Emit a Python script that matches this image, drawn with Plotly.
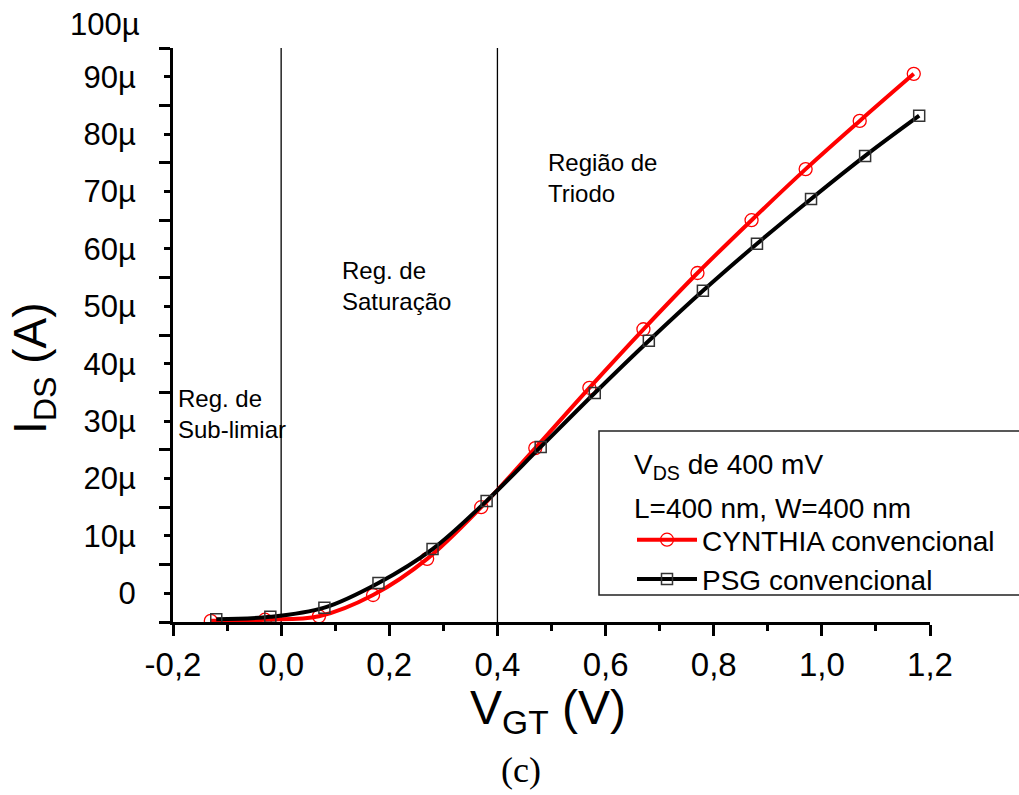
import plotly.graph_objects as go

# ---- data (axis units as labelled: µA) ----
x_cynthia = [-0.13, -0.03, 0.07, 0.17, 0.27, 0.37, 0.47, 0.57, 0.67, 0.77, 0.87, 0.97, 1.07, 1.17]
i_cynthia = [-4.8, -4.6, -4.0, -0.3, 6.0, 15.0, 25.3, 35.8, 46.0, 55.8, 65.0, 73.9, 82.3, 90.5]
x_psg = [-0.12, -0.02, 0.08, 0.18, 0.28, 0.38, 0.48, 0.58, 0.68, 0.78, 0.88, 0.98, 1.08, 1.18]
i_psg = [-4.5, -4.1, -2.5, 1.8, 7.7, 16.1, 25.5, 34.9, 44.0, 52.7, 60.9, 68.7, 76.2, 83.2]

x_tickvals = [-0.2, 0.0, 0.2, 0.4, 0.6, 0.8, 1.0, 1.2]
x_ticktext = ["-0,2", "0,0", "0,2", "0,4", "0,6", "0,8", "1,0", "1,2"]
y_tickvals = [0, 10, 20, 30, 40, 50, 60, 70, 80, 90]
y_ticktext = ["0", "10µ", "20µ", "30µ", "40µ", "50µ", "60µ", "70µ", "80µ", "90µ"]
y_long_ticks = [-5, 5, 15, 25, 35, 45, 55, 65, 75, 85, 95]
region_lines = [0.0, 0.4]

FONT = "Liberation Sans, Arial, sans-serif"
W, H = 1019, 795
L, R, T, B = 173, 89, 48, 173
PW, PH = W - L - R, H - T - B


def px(xp):
    return (xp - L) / PW


def py(yp):
    return (H - B - yp) / PH


fig = go.Figure()
fig.add_trace(go.Scatter(
    x=x_cynthia, y=i_cynthia, mode="lines+markers", name="CYNTHIA convencional",
    line=dict(color="#ff0000", width=4, shape="spline", smoothing=1.0),
    marker=dict(symbol="circle-open", size=13, color="#ff0000", line=dict(width=1.3, color="#ff0000")),
))
fig.add_trace(go.Scatter(
    x=x_psg, y=i_psg, mode="lines+markers", name="PSG convencional",
    line=dict(color="#000000", width=4, shape="spline", smoothing=1.0),
    marker=dict(symbol="square-open", size=11, color="#333333", line=dict(width=1.5, color="#333333")),
))

shapes = []
for xv in region_lines:
    shapes.append(dict(type="line", xref="x", yref="paper", x0=xv, x1=xv, y0=0, y1=1,
                       line=dict(color="black", width=1.3), layer="below"))
# legend frame
shapes.append(dict(type="rect", xref="paper", yref="paper", x0=px(599), x1=px(1030),
                   y0=py(595), y1=py(431), line=dict(color="#222222", width=1.5),
                   fillcolor="rgba(255,255,255,0)"))

annotations = [
    dict(text="Reg. de<br>Sub-limiar", x=px(176), y=py(414), xanchor="left", yanchor="middle", align="left",
         font=dict(size=24)),
    dict(text="Reg. de<br>Saturação", x=px(340), y=py(286), xanchor="left", yanchor="middle", align="left",
         font=dict(size=24)),
    dict(text="Região de<br>Triodo", x=px(546), y=py(178), xanchor="left", yanchor="middle", align="left",
         font=dict(size=24)),
    dict(text="V<sub>DS</sub> de 400 mV", x=px(632), y=py(466), xanchor="left", yanchor="middle", align="left",
         font=dict(size=28)),
    dict(text="L=400 nm, W=400 nm", x=px(632), y=py(508), xanchor="left", yanchor="middle", align="left",
         font=dict(size=28)),
    dict(text="100µ", x=px(142), y=py(25), xanchor="right", yanchor="middle", font=dict(size=31)),
    dict(text="I<sub>DS</sub> (A)", x=px(33), y=py(368), xanchor="center", yanchor="middle", textangle=-90,
         font=dict(size=46)),
    dict(text="V<sub>GT</sub> (V)", x=px(548), y=py(711), xanchor="center", yanchor="middle",
         font=dict(size=48)),
    dict(text="(c)", x=px(521), y=py(770), xanchor="center", yanchor="middle",
         font=dict(size=36, family="Liberation Serif, Times New Roman, serif")),
]
for a in annotations:
    a.update(xref="paper", yref="paper", showarrow=False)
    a["font"].setdefault("family", FONT)
    a["font"].setdefault("color", "black")

fig.update_layout(
    width=W, height=H,
    margin=dict(l=L, r=R, t=T, b=B, pad=0),
    paper_bgcolor="white", plot_bgcolor="white",
    font=dict(family=FONT, color="black"),
    showlegend=True,
    legend=dict(x=px(632), y=py(515), xanchor="left", yanchor="top", itemwidth=60,
                font=dict(size=28, family=FONT, color="black"),
                bgcolor="rgba(0,0,0,0)", borderwidth=0, tracegroupgap=0),
    shapes=shapes, annotations=annotations,
)
fig.update_xaxes(
    range=[-0.2, 1.2], showgrid=False, zeroline=False,
    showline=True, linecolor="black", linewidth=3,
    tickmode="array", tickvals=x_tickvals, ticktext=x_ticktext,
    ticks="outside", ticklen=11, tickwidth=2.5, tickcolor="black",
    tickfont=dict(size=33, family=FONT, color="black"),
    minor=dict(dtick=0.1, tick0=0, ticks="outside", ticklen=6, tickwidth=2.5, tickcolor="black", showgrid=False),
)
fig.update_yaxes(
    range=[-5, 95], showgrid=False, zeroline=False,
    showline=True, linecolor="black", linewidth=3,
    tickmode="array", tickvals=y_tickvals, ticktext=y_ticktext,
    ticks="outside", ticklen=6, tickwidth=2.5, tickcolor="black",
    ticklabelstandoff=22,
    tickfont=dict(size=31, family=FONT, color="black"),
    minor=dict(tickmode="array", tickvals=y_long_ticks, ticks="outside", ticklen=11, tickwidth=2.5,
               tickcolor="black", showgrid=False),
)

fig.write_html("out.html", config={"displayModeBar": False},
               post_script="document.body.style.margin='0';document.body.style.overflow='hidden';")
